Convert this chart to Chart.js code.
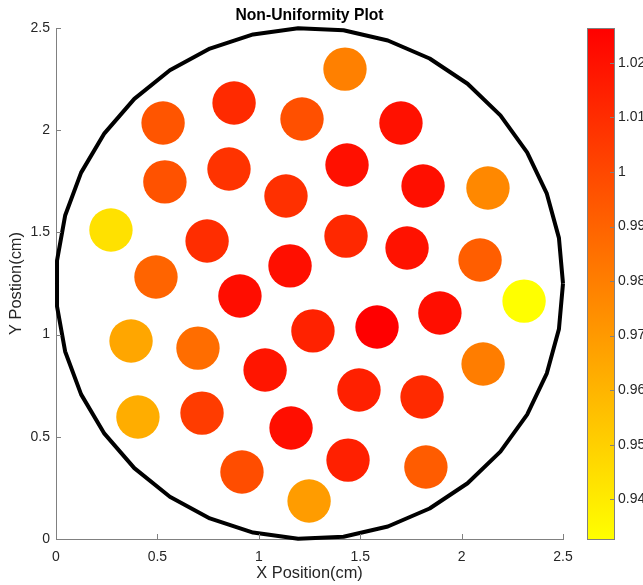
<!DOCTYPE html>
<html>
<head>
<meta charset="utf-8">
<script src="https://cdn.jsdelivr.net/npm/chart.js@4/dist/chart.umd.min.js"></script>
<style>
  html, body { margin: 0; padding: 0; background: #fff; }
</style>
</head>
<body>
<canvas id="chart" width="643" height="585"></canvas>
<script>
// detector positions (cm) and their normalised response
const xPos = [1.425, 0.528, 0.878, 1.213, 1.701, 0.537, 0.853, 1.134, 1.435, 1.810, 2.130, 0.271,
              0.745, 0.493, 1.154, 0.907, 0.370, 0.700, 1.267, 1.430, 1.731, 2.091, 2.308, 1.893,
              1.583, 2.106, 1.031, 0.404, 0.720, 1.159, 0.917, 1.248, 1.494, 1.805, 1.440, 1.824];
const yPos = [2.299, 2.035, 2.133, 2.055, 2.035, 1.747, 1.810, 1.678, 1.830, 1.727, 1.717, 1.512,
              1.458, 1.282, 1.336, 1.189, 0.969, 0.934, 1.018, 1.482, 1.424, 1.365, 1.164, 1.106,
              1.037, 0.856, 0.827, 0.597, 0.616, 0.543, 0.328, 0.186, 0.729, 0.695, 0.386, 0.352];
const uniformity = [0.9794, 0.9952, 1.0110, 0.9970, 1.0202, 0.9963, 1.0077, 1.0088, 1.0205, 1.0209, 0.9764, 0.9437,
                    1.0099, 0.9897, 1.0209, 1.0216, 0.9654, 0.9863, 1.0139, 1.0117, 1.0198, 0.9919, 0.9327, 1.0213,
                    1.0264, 0.9805, 1.0187, 0.9628, 1.0044, 1.0213, 0.9981, 0.9691, 1.0146, 1.0110, 1.0146, 0.9926];
const axisTicks = [0, 0.5, 1, 1.5, 2, 2.5];
const colorTicks = [0.94, 0.95, 0.96, 0.97, 0.98, 0.99, 1, 1.01, 1.02];

// boundary of the plate
const plateCenter = [1.25, 1.25];
const plateRadius = 1.25;
const plateSegments = 35;

const vMin = Math.min(...uniformity);
const vMax = Math.max(...uniformity);

// MATLAB "autumn": red at the top of the range, yellow at the bottom
function autumn(v) {
    const t = (vMax - v) / (vMax - vMin);
    return 'rgb(255,' + Math.round(255 * t) + ',0)';
}

const outline = [];
for (let i = 0; i <= plateSegments; i++) {
    const a = 2 * Math.PI * i / plateSegments;
    outline.push({ x: plateCenter[0] + plateRadius * Math.cos(a), y: plateCenter[1] + plateRadius * Math.sin(a) });
}

const FONT = "'Liberation Sans', Arial, sans-serif";
const TXT = '#262626';
const AXIS = '#808080';

const decor = {
    id: 'decor',
    afterDraw(chart) {
        const ctx = chart.ctx;
        const xs = chart.scales.x, ys = chart.scales.y, cb = chart.scales.cb;
        ctx.save();
        ctx.strokeStyle = AXIS;
        ctx.lineWidth = 1;
        ctx.beginPath();
        axisTicks.forEach(v => {
            const px = Math.round(xs.getPixelForValue(v)) + 0.5;
            ctx.moveTo(px, ys.bottom);
            ctx.lineTo(px, ys.bottom - 5);
            const py = Math.round(ys.getPixelForValue(v)) + 0.5;
            ctx.moveTo(xs.left, py);
            ctx.lineTo(xs.left + 5, py);
        });
        ctx.stroke();

        // colour bar
        const left = chart.chartArea.right + 24, w = 27;
        const g = ctx.createLinearGradient(0, cb.bottom, 0, cb.top);
        g.addColorStop(0, 'rgb(255,255,0)');
        g.addColorStop(1, 'rgb(255,0,0)');
        ctx.fillStyle = g;
        ctx.fillRect(left, cb.top, w, cb.bottom - cb.top);
        ctx.strokeStyle = AXIS;
        ctx.strokeRect(left + 0.5, cb.top + 0.5, w, cb.bottom - cb.top);
        ctx.beginPath();
        colorTicks.forEach(v => {
            const py = Math.round(cb.getPixelForValue(v)) + 0.5;
            ctx.moveTo(left + w, py);
            ctx.lineTo(left + w - 4, py);
        });
        ctx.stroke();
        ctx.restore();
    }
};

new Chart(document.getElementById('chart'), {
    type: 'scatter',
    data: {
        datasets: [
            {
                data: xPos.map((x, i) => ({ x: x, y: yPos[i] })),
                pointRadius: 21.7,
                pointHoverRadius: 21.7,
                pointBorderWidth: 0,
                pointBackgroundColor: uniformity.map(autumn),
                pointBorderColor: uniformity.map(autumn)
            },
            {
                data: outline,
                showLine: true,
                borderColor: '#000',
                borderWidth: 4,
                borderJoinStyle: 'round',
                pointRadius: 0,
                tension: 0,
                clip: false
            }
        ]
    },
    options: {
        responsive: false,
        animation: false,
        layout: { padding: 0 },
        plugins: {
            legend: { display: false },
            tooltip: { enabled: false },
            title: {
                display: true,
                fullSize: false,
                text: 'Non-Uniformity Plot',
                color: '#000',
                font: { family: FONT, size: 15.7, weight: 'bold' },
                padding: { top: 6, bottom: 3.16 }
            }
        },
        scales: {
            x: {
                type: 'linear',
                min: 0, max: 2.5,
                grid: { display: false, drawTicks: false },
                border: { display: true, color: AXIS },
                afterBuildTicks: s => { s.ticks = axisTicks.map(v => ({ value: v })); },
                afterFit: s => { s.height = 46; },
                ticks: { color: TXT, font: { family: FONT, size: 14 }, padding: 10, autoSkip: false, maxRotation: 0,
                         callback: v => String(v) },
                title: { display: true, text: 'X Position(cm)', color: TXT, font: { family: FONT, size: 16.4 },
                         padding: { top: 0, bottom: 1.2 } }
            },
            y: {
                type: 'linear',
                position: 'left',
                min: 0, max: 2.5,
                grid: { display: false, drawTicks: false },
                border: { display: true, color: AXIS },
                afterBuildTicks: s => { s.ticks = axisTicks.map(v => ({ value: v })); },
                afterFit: s => { s.width = 56; s.paddingTop = 8; s.paddingBottom = 8; },
                ticks: { color: TXT, font: { family: FONT, size: 14 }, padding: 6, autoSkip: false,
                         callback: v => String(v) },
                title: { display: true, text: 'Y Postion(cm)', color: TXT, font: { family: FONT, size: 16.4 },
                         padding: { top: 7, bottom: 0 } }
            },
            cb: {
                type: 'linear',
                position: 'right',
                min: vMin, max: vMax,
                grid: { display: false, drawTicks: false },
                border: { display: false },
                afterBuildTicks: s => { s.ticks = colorTicks.map(v => ({ value: v })); },
                afterFit: s => { s.width = 80; s.paddingTop = 8; s.paddingBottom = 8; },
                ticks: { color: TXT, font: { family: FONT, size: 14 }, padding: 55, autoSkip: false,
                         callback: v => String(v) }
            }
        }
    },
    plugins: [decor]
});
</script>
</body>
</html>
